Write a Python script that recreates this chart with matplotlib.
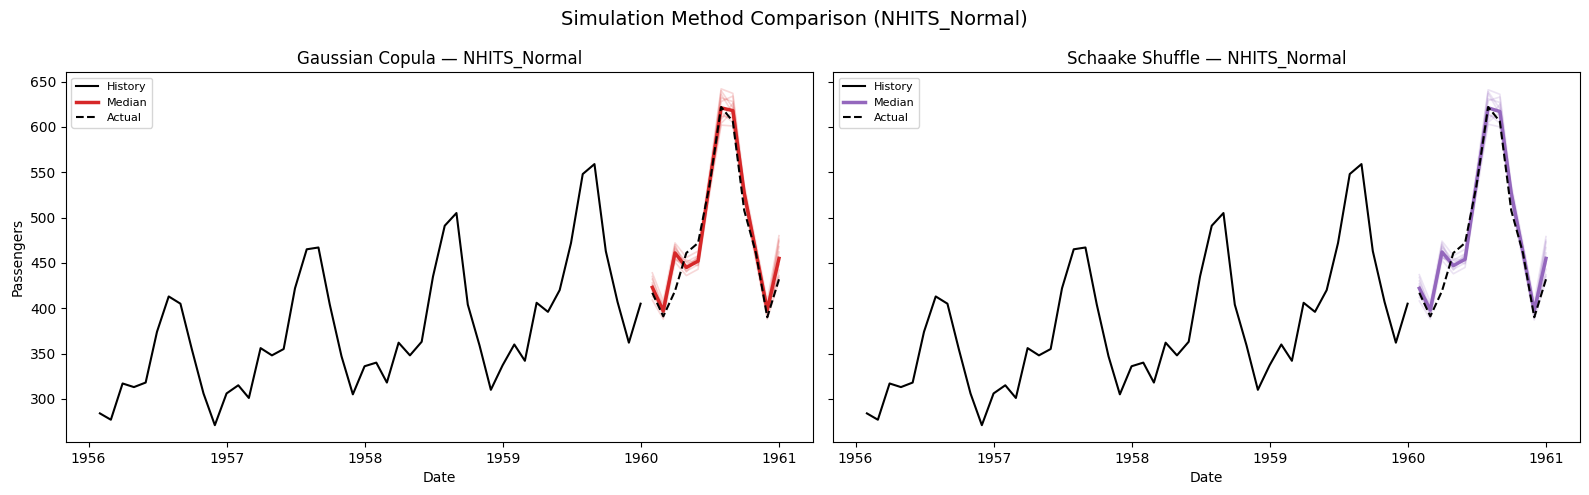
import matplotlib
matplotlib.use("Agg")
import matplotlib.pyplot as plt
import pandas as pd

hist_dates = pd.date_range("1956-01-31", periods=48, freq="ME")
fc_dates = pd.date_range("1960-01-31", periods=12, freq="ME")

history = [284, 277, 317, 313, 318, 374, 413, 405, 355, 306, 271, 306,
           315, 301, 356, 348, 355, 422, 465, 467, 404, 347, 305, 336,
           340, 318, 362, 348, 363, 435, 491, 505, 404, 359, 310, 337,
           360, 342, 406, 396, 420, 472, 548, 559, 463, 407, 362, 405]
actual = [417, 391, 419, 461, 472, 535, 622, 606, 508, 461, 390, 432]

g_median = [423, 397, 461, 445, 452, 537, 621, 618, 527, 462, 398, 455]
g_samples = [
    [439, 408, 472, 456, 463, 549, 642, 637, 537, 472, 408, 480],
    [409, 388, 451, 436, 443, 525, 602, 601, 517, 452, 388, 430],
    [432, 403, 466, 451, 458, 543, 632, 628, 532, 467, 403, 468],
    [416, 393, 456, 441, 448, 531, 612, 610, 522, 457, 393, 442],
    [435, 395, 468, 443, 458, 540, 636, 615, 530, 465, 396, 474],
    [413, 402, 454, 451, 447, 534, 608, 626, 524, 459, 401, 436],
    [428, 391, 464, 440, 456, 539, 628, 634, 528, 463, 394, 462],
    [420, 405, 458, 453, 450, 535, 616, 605, 526, 461, 404, 448],
    [426, 396, 470, 444, 452, 541, 640, 621, 529, 464, 397, 476],
    [418, 400, 453, 448, 455, 533, 604, 617, 525, 460, 399, 434],
]

s_median = [422, 398, 462, 447, 454, 538, 621, 617, 527, 462, 397, 455]
s_samples = [
    [437, 407, 474, 458, 465, 550, 641, 636, 537, 472, 407, 479],
    [408, 388, 453, 438, 445, 526, 603, 600, 517, 452, 387, 431],
    [430, 402, 468, 453, 460, 544, 631, 627, 532, 467, 402, 467],
    [415, 393, 458, 443, 450, 532, 613, 609, 522, 457, 392, 443],
    [434, 395, 470, 445, 460, 541, 637, 614, 530, 465, 395, 473],
    [412, 402, 455, 453, 449, 535, 607, 625, 524, 459, 400, 437],
    [427, 391, 466, 442, 458, 540, 629, 633, 528, 463, 393, 461],
    [419, 405, 460, 455, 452, 536, 615, 604, 526, 461, 403, 449],
    [425, 396, 472, 446, 454, 542, 639, 620, 529, 464, 396, 475],
    [417, 400, 456, 450, 457, 534, 605, 616, 525, 460, 398, 435],
]

panels = [
    ("Gaussian Copula \u2014 NHITS_Normal", g_median, g_samples, "#d62728"),
    ("Schaake Shuffle \u2014 NHITS_Normal", s_median, s_samples, "#9467bd"),
]

fig, axes = plt.subplots(1, 2, figsize=(15.89, 4.95), dpi=100, sharey=True)
fig.subplots_adjust(left=0.0415, right=0.9943, top=0.8545, bottom=0.1071, wspace=0.0268)

for ax, (title, med, samples, color) in zip(axes, panels):
    ax.plot(hist_dates, history, color="black", lw=1.5, label="History")
    for s in samples:
        ax.plot(fc_dates, s, color=color, lw=1.2, alpha=0.18)
    ax.plot(fc_dates, med, color=color, lw=2.5, label="Median")
    ax.plot(fc_dates, actual, color="black", lw=1.5, ls="--", label="Actual")
    ax.set_title(title, fontsize=12)
    ax.set_xlabel("Date")
    ax.legend(loc="upper left", fontsize=8)

axes[0].set_ylabel("Passengers")
fig.suptitle("Simulation Method Comparison (NHITS_Normal)", fontsize=14)
fig.savefig("out.png", dpi=100)
